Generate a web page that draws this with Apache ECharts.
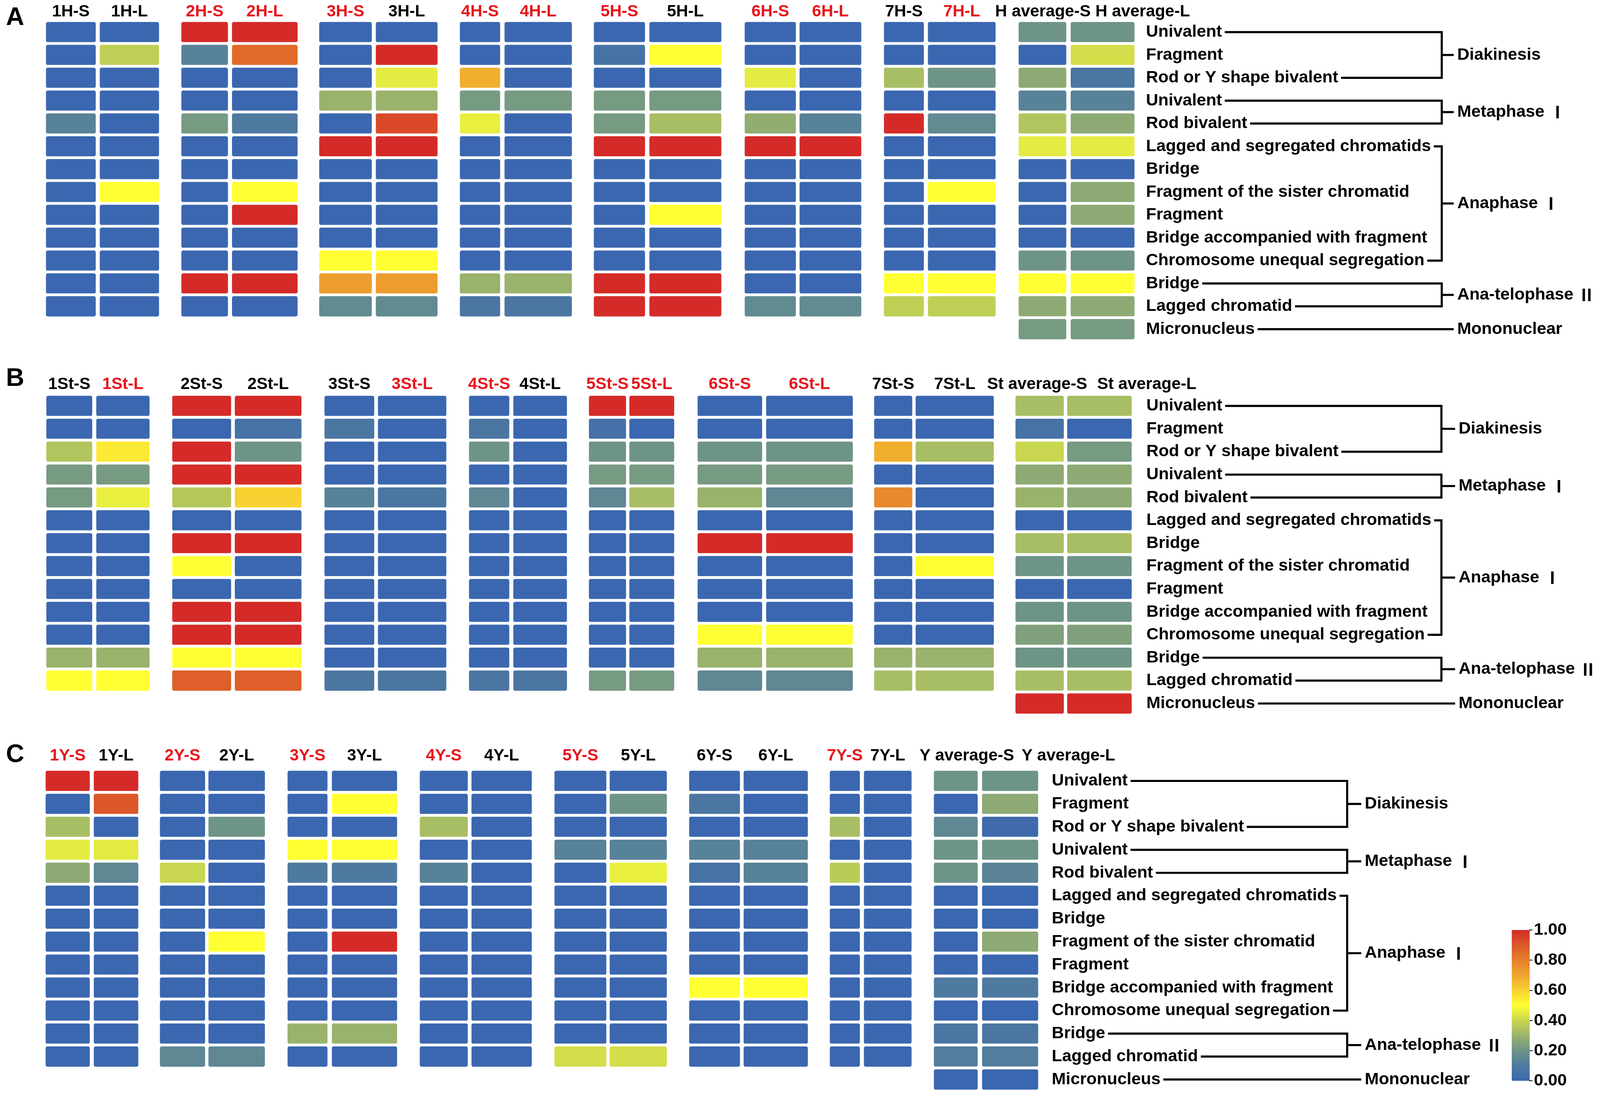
<!DOCTYPE html>
<html>
<head>
<meta charset="utf-8">
<script src="https://cdn.jsdelivr.net/npm/echarts@6/dist/echarts.min.js"></script>
<style>
  html, body { margin: 0; padding: 0; background: #fff; overflow: hidden; }
  #chart { width: 100vw; height: 100vh; }
</style>
</head>
<body>
<div id="chart"></div>
<script>
// ---- data ----
var ROWS = ['Univalent', 'Fragment', 'Rod or Y shape bivalent', 'Univalent', 'Rod bivalent',
  'Lagged and segregated chromatids', 'Bridge', 'Fragment of the sister chromatid', 'Fragment',
  'Bridge accompanied with fragment', 'Chromosome unequal segregation', 'Bridge', 'Lagged chromatid',
  'Micronucleus'];

var PHASES = [
  { name: 'Diakinesis', num: '', from: 0, to: 2 },
  { name: 'Metaphase ', num: '\u2160', from: 3, to: 4 },
  { name: 'Anaphase ', num: '\u2160', from: 5, to: 10 },
  { name: 'Ana-telophase ', num: '\u2161', from: 11, to: 12 },
  { name: 'Mononuclear', num: '', from: 13, to: 13 }
];

var TICKS = [0, 0.2, 0.4, 0.6, 0.8, 1];

// panel A: H genome, short (S) and long (L) arms of 1H..7H, then average
var H_S = [
  [0, 0, 0, 0, 0.13, 0, 0, 0, 0, 0, 0, 0, 0],
  [1, 0.13, 0, 0, 0.22, 0, 0, 0, 0, 0, 0, 1, 0],
  [0, 0, 0, 0.3, 0, 1, 0, 0, 0, 0, 0.5, 0.72, 0.16],
  [0, 0, 0.68, 0.22, 0.46, 0, 0, 0, 0, 0, 0, 0.3, 0.08],
  [0, 0.06, 0, 0.22, 0.22, 1, 0, 0, 0, 0, 0, 1, 1],
  [0, 0, 0.45, 0, 0.28, 1, 0, 0, 0, 0, 0, 0, 0.16],
  [0, 0, 0.33, 0, 1, 0, 0, 0, 0, 0, 0, 0.5, 0.38]
];
var H_L = [
  [0, 0.38, 0, 0, 0, 0, 0, 0.5, 0, 0, 0, 0, 0],
  [1, 0.85, 0, 0, 0.1, 0, 0, 0.5, 1, 0, 0, 1, 0],
  [0, 1, 0.45, 0.3, 0.93, 1, 0, 0, 0, 0, 0.5, 0.72, 0.16],
  [0, 0, 0, 0.22, 0, 0, 0, 0, 0, 0, 0, 0.3, 0.08],
  [0, 0.5, 0, 0.22, 0.33, 1, 0, 0, 0.5, 0, 0, 1, 1],
  [0, 0, 0, 0, 0.13, 1, 0, 0, 0, 0, 0, 0, 0.16],
  [0, 0, 0.2, 0, 0.16, 0, 0, 0.5, 0, 0, 0, 0.5, 0.38]
];
var H_AVG_S = [0.2, 0, 0.27, 0.13, 0.35, 0.45, 0, 0, 0, 0, 0.2, 0.5, 0.27, 0.22];
var H_AVG_L = [0.2, 0.42, 0.08, 0.13, 0.27, 0.45, 0, 0.27, 0.27, 0, 0.2, 0.5, 0.27, 0.22];
var H_HEADS = ['1H-S', '1H-L', '2H-S', '2H-L', '3H-S', '3H-L', '4H-S', '4H-L', '5H-S', '5H-L',
  '6H-S', '6H-L', '7H-S', '7H-L', 'H average-S', 'H average-L'];
var H_RED = [0, 0, 1, 1, 1, 0, 1, 1, 1, 0, 1, 1, 0, 1, 0, 0];

// panel B: St genome
var ST_S = [
  [0, 0, 0.35, 0.22, 0.22, 0, 0, 0, 0, 0, 0, 0.3, 0.5],
  [1, 0, 1, 1, 0.36, 0, 1, 0.5, 0, 1, 1, 0.5, 0.88],
  [0, 0.08, 0, 0, 0.13, 0, 0, 0, 0, 0, 0, 0, 0.08],
  [0, 0.08, 0.2, 0, 0.15, 0, 0, 0, 0, 0, 0, 0, 0.08],
  [1, 0.05, 0.2, 0.22, 0.15, 0, 0, 0, 0, 0, 0, 0, 0.22],
  [0, 0, 0.2, 0.22, 0.3, 0, 1, 0, 0, 0, 0.5, 0.3, 0.15],
  [0, 0, 0.68, 0, 0.77, 0, 0, 0, 0, 0, 0, 0.3, 0.33]
];
var ST_L = [
  [0, 0, 0.55, 0.22, 0.46, 0, 0, 0, 0, 0, 0, 0.3, 0.5],
  [1, 0.06, 0.2, 1, 0.6, 0, 1, 0, 0, 1, 1, 0.5, 0.88],
  [0, 0, 0, 0, 0.08, 0, 0, 0, 0, 0, 0, 0, 0.08],
  [0, 0, 0, 0, 0, 0, 0, 0, 0, 0, 0, 0, 0.08],
  [1, 0, 0.2, 0.22, 0.33, 0, 0, 0, 0, 0, 0, 0, 0.22],
  [0, 0, 0.2, 0.22, 0.15, 0, 1, 0, 0, 0, 0.5, 0.3, 0.15],
  [0, 0, 0.33, 0, 0, 0, 0, 0.5, 0, 0, 0, 0.3, 0.33]
];
var ST_AVG_S = [0.33, 0.06, 0.4, 0.27, 0.3, 0, 0.33, 0.2, 0, 0.2, 0.24, 0.2, 0.33, 1];
var ST_AVG_L = [0.33, 0, 0.22, 0.27, 0.27, 0, 0.33, 0.2, 0, 0.2, 0.24, 0.2, 0.33, 1];
var ST_HEADS = ['1St-S', '1St-L', '2St-S', '2St-L', '3St-S', '3St-L', '4St-S', '4St-L', '5St-S', '5St-L',
  '6St-S', '6St-L', '7St-S', '7St-L', 'St average-S', 'St average-L'];
var ST_RED = [0, 1, 0, 0, 0, 1, 1, 0, 1, 1, 1, 1, 0, 0, 0, 0];

// panel C: Y genome
var Y_S = [
  [1, 0, 0.33, 0.45, 0.27, 0, 0, 0, 0, 0, 0, 0, 0],
  [0, 0, 0, 0, 0.4, 0, 0, 0, 0, 0, 0, 0, 0.15],
  [0, 0, 0, 0.5, 0.1, 0, 0, 0, 0, 0, 0, 0.3, 0],
  [0, 0, 0.33, 0, 0.13, 0, 0, 0, 0, 0, 0, 0, 0],
  [0, 0, 0, 0.13, 0, 0, 0, 0, 0, 0, 0, 0, 0.42],
  [0, 0.08, 0, 0.13, 0.06, 0, 0, 0, 0, 0.5, 0, 0, 0],
  [0, 0, 0.33, 0, 0.37, 0, 0, 0, 0, 0, 0, 0, 0]
];
var Y_L = [
  [1, 0.9, 0, 0.45, 0.15, 0, 0, 0, 0, 0, 0, 0, 0],
  [0, 0, 0.2, 0, 0, 0, 0, 0.5, 0, 0, 0, 0, 0.15],
  [0, 0.5, 0, 0.5, 0.1, 0, 0, 1, 0, 0, 0, 0.3, 0],
  [0, 0, 0, 0, 0, 0, 0, 0, 0, 0, 0, 0, 0],
  [0, 0.2, 0, 0.13, 0.46, 0, 0, 0, 0, 0, 0, 0, 0.42],
  [0, 0, 0, 0.13, 0.13, 0, 0, 0, 0, 0.5, 0, 0, 0],
  [0, 0, 0, 0, 0, 0, 0, 0, 0, 0, 0, 0, 0]
];
var Y_AVG_S = [0.2, 0, 0.15, 0.2, 0.2, 0, 0, 0, 0, 0.1, 0, 0.08, 0.11, 0];
var Y_AVG_L = [0.2, 0.27, 0.02, 0.2, 0.14, 0, 0, 0.27, 0, 0.1, 0, 0.08, 0.11, 0];
var Y_HEADS = ['1Y-S', '1Y-L', '2Y-S', '2Y-L', '3Y-S', '3Y-L', '4Y-S', '4Y-L', '5Y-S', '5Y-L',
  '6Y-S', '6Y-L', '7Y-S', '7Y-L', 'Y average-S', 'Y average-L'];
var Y_RED = [1, 0, 1, 0, 1, 0, 1, 0, 1, 0, 0, 0, 1, 0, 0, 0];

// ---- layout, in reference pixels (4550 x 2806), scaled to the real viewport ----
var W = window.innerWidth, H = window.innerHeight;
var SX = W / 4550, SY = H / 2806, SF = Math.min(SX, SY);
function X(v) { return v * SX; }
function Y(v) { return v * SY; }
function F(v) { return Math.round(v * SF * 10) / 10; }

var FONT = '"Liberation Sans", Arial, sans-serif';
var RED = '#e8141b';
var CMAP = ['#3b67b0', '#4f7a9f', '#6e9488', '#9ab36c', '#c8d650', '#ffff33',
  '#f7d232', '#eea52e', '#e67f2c', '#dc572a', '#d42b28'];
var GAP = 8;

var PANELS = [
  { letter: 'A', letterY: 46, top: 57, pitch: 58.5, headBase: 44, labelGap: 25, vx: 4100, px: 4144,
    avgHead: [2830, 3115],
    S: H_S, L: H_L, avgS: H_AVG_S, avgL: H_AVG_L, heads: H_HEADS, red: H_RED,
    cols: [[131, 272], [284, 452], [516, 648], [660, 846], [908, 1057], [1069, 1244], [1308, 1422], [1435, 1626],
      [1689, 1834], [1847, 2051], [2118, 2263], [2274, 2449], [2514, 2627], [2639, 2831], [2897, 3032], [3045, 3226]] },
  { letter: 'B', letterY: 970, top: 1014, pitch: 58.6, headBase: 998, labelGap: 34, vx: 4099, px: 4148,
    avgHead: [2807, 3120],
    S: ST_S, L: ST_L, avgS: ST_AVG_S, avgL: ST_AVG_L, heads: ST_HEADS, red: ST_RED,
    cols: [[132, 262], [274, 425], [490, 657], [668, 857], [923, 1064], [1075, 1269], [1334, 1448], [1460, 1612],
      [1675, 1780], [1790, 1917], [1984, 2167], [2179, 2425], [2486, 2594], [2604, 2826], [2888, 3025], [3035, 3218]] },
  { letter: 'C', letterY: 1933, top: 1974, pitch: 58.8, headBase: 1949, labelGap: 31, vx: 3831, px: 3881,
    avgHead: [2615, 2905],
    S: Y_S, L: Y_L, avgS: Y_AVG_S, avgL: Y_AVG_L, heads: Y_HEADS, red: Y_RED,
    cols: [[130, 255], [267, 393], [455, 583], [593, 753], [818, 931], [944, 1129], [1194, 1330], [1341, 1512],
      [1577, 1724], [1734, 1896], [1960, 2104], [2115, 2297], [2360, 2445], [2457, 2592], [2656, 2780], [2793, 2952]] }
];

var grids = [], xAxes = [], yAxes = [], series = [], graphics = [];

var LABEL_SIZE = F(48), HEAD_SIZE = F(47);
var ctx = document.createElement('canvas').getContext('2d');
ctx.font = 'bold ' + LABEL_SIZE + 'px ' + FONT;
function textW(s) { return ctx.measureText(s).width; }

PANELS.forEach(function (p) {
  var columns = [];
  for (var g = 0; g < 7; g++) { columns.push(p.S[g], p.L[g]); }
  columns.push(p.avgS, p.avgL);

  var bandTop = p.top - GAP / 2;
  columns.forEach(function (vals, c) {
    var k = grids.length;
    var n = vals.length;
    var isAvg = c >= 14;
    grids.push({
      left: X(p.cols[c][0] - GAP / 2),
      width: X(p.cols[c][1] - p.cols[c][0] + GAP),
      top: Y(bandTop),
      height: Y(n * p.pitch)
    });
    xAxes.push({
      gridIndex: k, type: 'category', position: 'top', data: [p.heads[c]],
      axisLine: { show: false }, axisTick: { show: false }, splitLine: { show: false },
      axisLabel: {
        show: !isAvg, interval: 0, margin: Y(bandTop - p.headBase - 7),
        color: p.red[c] ? RED : '#000', fontSize: HEAD_SIZE, fontWeight: 'bold', fontFamily: FONT
      }
    });
    yAxes.push({
      gridIndex: k, type: 'category', inverse: true, position: 'right',
      data: vals.map(function (v, i) { return String(i); }),
      axisLine: { show: false }, axisTick: { show: false }, splitLine: { show: false },
      axisLabel: c === 15 ? {
        show: true, interval: 0, margin: X(p.labelGap + GAP / 2), align: 'left',
        fontSize: LABEL_SIZE, fontWeight: 'bold', fontFamily: FONT, color: '#000',
        formatter: function (v) { return ROWS[+v]; }
      } : { show: false }
    });
    series.push({
      type: 'heatmap', xAxisIndex: k, yAxisIndex: k, silent: true,
      data: vals.map(function (v, i) { return [0, i, v]; }),
      itemStyle: { borderColor: '#fff', borderWidth: GAP * SF, borderRadius: 9 * SF },
      emphasis: { disabled: true }
    });
  });

  // average column headers sit side by side
  [14, 15].forEach(function (c, j) {
    graphics.push({
      type: 'text', x: X(p.avgHead[j]), y: Y(p.headBase + 7),
      style: { text: p.heads[c], font: 'bold ' + HEAD_SIZE + 'px ' + FONT, fill: '#000', verticalAlign: 'bottom', align: 'left' }
    });
  });

  // panel letter
  graphics.push({
    type: 'text', x: X(17), y: Y(p.letterY),
    style: { text: p.letter, font: 'bold ' + F(72) + 'px ' + FONT, fill: '#000', verticalAlign: 'middle', align: 'left' }
  });

  // brackets to phase names
  var labelLeft = X(p.cols[15][1] + p.labelGap);
  function rowY(i) { return Y(bandTop + (i + 0.5) * p.pitch); }
  function endX(i) { return labelLeft + textW(ROWS[i]) + X(16); }
  var ls = { stroke: '#000', lineWidth: 6 * SF, fill: null };
  var vx = X(p.vx), px = X(p.px);
  PHASES.forEach(function (ph) {
    var ym = (rowY(ph.from) + rowY(ph.to)) / 2;
    if (ph.from === ph.to) {
      graphics.push({ type: 'polyline', shape: { points: [[endX(ph.from), ym], [px - X(10), ym]] }, style: ls });
    } else {
      graphics.push({
        type: 'polyline',
        shape: { points: [[endX(ph.from), rowY(ph.from)], [vx, rowY(ph.from)], [vx, rowY(ph.to)], [endX(ph.to), rowY(ph.to)]] },
        style: ls
      });
      graphics.push({ type: 'polyline', shape: { points: [[vx, ym], [px - X(10), ym]] }, style: ls });
    }
    graphics.push({
      type: 'text', x: px, y: ym,
      style: {
        text: '{a|' + ph.name + '}' + (ph.num ? '{b|' + ph.num + '}' : ''),
        verticalAlign: 'middle', align: 'left',
        rich: {
          a: { fontSize: LABEL_SIZE, fontWeight: 'bold', fontFamily: FONT, fill: '#000' },
          b: { fontSize: LABEL_SIZE, fontWeight: 'bold', fontFamily: '"Noto Sans CJK SC", ' + FONT, fill: '#000' }
        }
      }
    });
  });
});

// colour bar axis
var cb = grids.length;
grids.push({ left: X(4349), width: 1, top: Y(2381), height: Y(386) });
xAxes.push({ gridIndex: cb, type: 'value', show: false });
yAxes.push({
  gridIndex: cb, type: 'value', position: 'right', min: TICKS[0], max: TICKS[TICKS.length - 1], interval: 0.2,
  axisLine: { show: true, lineStyle: { color: '#000', width: 2 } },
  axisTick: { show: true, length: X(9), lineStyle: { color: '#000', width: 2 } },
  splitLine: { show: false },
  axisLabel: {
    margin: X(12), fontSize: F(48), fontWeight: 'bold', fontFamily: FONT, color: '#000',
    formatter: function (v) { return v.toFixed(2); }
  }
});

var chart = echarts.init(document.getElementById('chart'));
chart.setOption({
  animation: false,
  backgroundColor: '#fff',
  grid: grids,
  xAxis: xAxes,
  yAxis: yAxes,
  visualMap: {
    type: 'continuous', min: TICKS[0], max: TICKS[TICKS.length - 1],
    inRange: { color: CMAP },
    left: X(4299), top: Y(2381), itemWidth: X(51), itemHeight: Y(386), padding: 0,
    calculable: false, text: null, hoverLink: false,
    seriesIndex: series.map(function (s, i) { return i; })
  },
  series: series,
  graphic: graphics
});
</script>
</body>
</html>
